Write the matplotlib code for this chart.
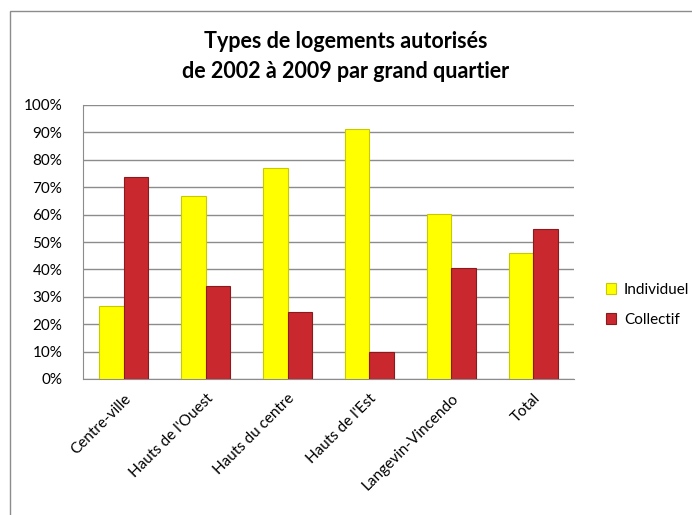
import numpy as np
import matplotlib
matplotlib.use("Agg")
import matplotlib.pyplot as plt
from matplotlib.patches import Rectangle
from matplotlib.ticker import PercentFormatter

categories = ["Centre-ville", "Hauts de l'Ouest", "Hauts du centre",
              "Hauts de l'Est", "Langevin-Vincendo", "Total"]
individuel = [26.6, 66.8, 76.9, 91.2, 60.2, 45.9]
collectif = [73.6, 33.9, 24.6, 9.7, 40.6, 54.9]

plt.rcParams["font.family"] = ["Lato", "DejaVu Sans"]

fig = plt.figure(figsize=(6.92, 5.15), dpi=100)
W, H = 692, 515

# chart frame
fig.patches.append(Rectangle((10 / W, 0 - 0.01), 1.0, 1 - 11 / H + 0.01,
                             transform=fig.transFigure, fill=False,
                             edgecolor="#8c8c8c", linewidth=1.0))

ax = fig.add_axes([83 / W, 1 - 379 / H, (574 - 83) / W, (379 - 105) / H])

x = np.arange(len(categories))
w = 0.3
ax.bar(x - w / 2, individuel, w, color="#ffff00", edgecolor="#c9c900",
       linewidth=0.8, label="Individuel", zorder=3)
ax.bar(x + w / 2, collectif, w, color="#c8282e", edgecolor="#8a1a1c",
       linewidth=0.8, label="Collectif", zorder=3)

ax.set_xlim(-0.5, len(categories) - 0.5)
ax.set_ylim(0, 100)
ax.set_yticks(np.arange(0, 101, 10))
ax.yaxis.set_major_formatter(PercentFormatter(decimals=0))
ax.grid(axis="y", color="#8c8c8c", linewidth=1.0, zorder=0)
ax.set_axisbelow(True)
for s in ["top", "right"]:
    ax.spines[s].set_visible(False)
ax.spines["left"].set_color("#8c8c8c")
ax.spines["bottom"].set_color("#8c8c8c")
ax.tick_params(axis="y", length=0, pad=15, labelsize=11)
ax.tick_params(axis="x", length=0, pad=9, labelsize=11)
ax.set_xticks(x)
ax.set_xticklabels(categories, rotation=45, ha="right", rotation_mode="anchor")

fig.text(0.5, 1 - 42 / H, "Types de logements autorisés", ha="center",
         va="center", fontsize=15.5, fontweight="bold")
fig.text(0.5, 1 - 72 / H, "de 2002 à 2009 par grand quartier", ha="center",
         va="center", fontsize=15.5, fontweight="bold")

ax.legend(loc="center left", bbox_to_anchor=(592 / W, 1 - 305 / H),
          bbox_transform=fig.transFigure, frameon=False, fontsize=11,
          handlelength=0.7, handleheight=0.7, labelspacing=1.05,
          handletextpad=0.5)

fig.savefig("out.png", dpi=100)
